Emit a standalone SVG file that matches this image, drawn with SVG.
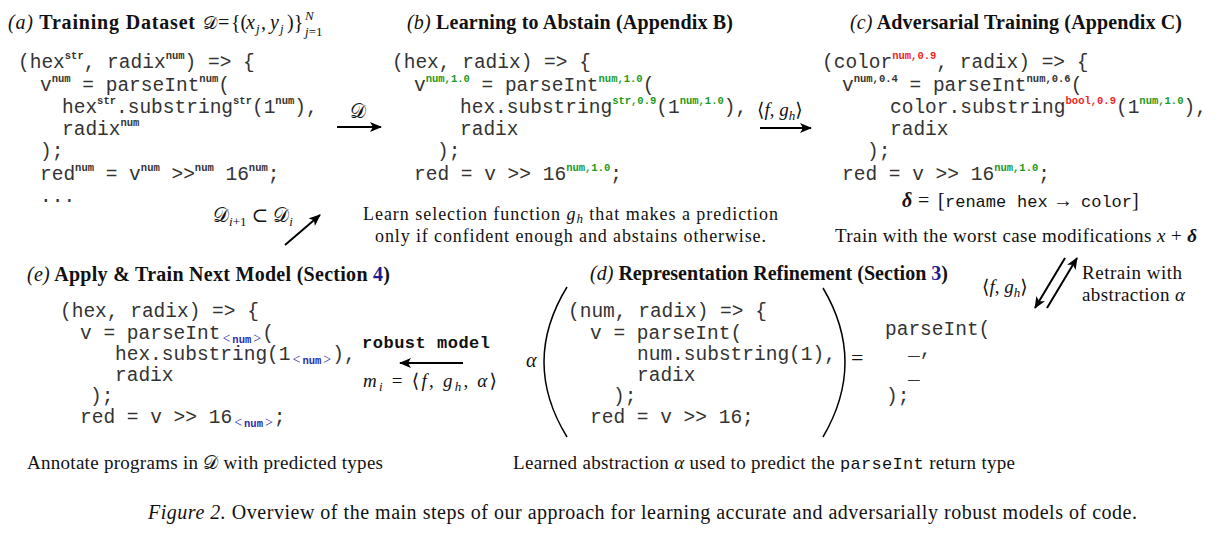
<svg xmlns="http://www.w3.org/2000/svg" width="1219" height="537" viewBox="0 0 1219 537">
<defs>
<marker id="ah" viewBox="0 0 12 10" refX="11" refY="5" markerWidth="12" markerHeight="10" markerUnits="userSpaceOnUse" orient="auto"><path d="M0,0 L12,5 L0,10 L3,5 z" fill="#000"/></marker>
<style>
.code{font-family:"Liberation Mono",monospace;font-size:19.5px;fill:#333}
.sup{font-family:"Liberation Mono",monospace;font-weight:bold;font-size:10.5px}
.g{fill:#1c9a1c}
.r{fill:#f01e1e}
.bl{fill:#2b2ba8}
.ser{font-family:"Liberation Serif","DejaVu Serif",serif;font-size:19px;fill:#111}
.cap{font-size:18px}
.ttl{font-family:"Liberation Serif",serif;font-size:20px;font-weight:bold;fill:#111}
.it{font-style:italic;font-weight:normal}
.mi{font-style:italic}
.sm{font-size:13px}
.link{fill:#1c1c8c}
.tt{font-family:"Liberation Mono",monospace}
.arrow{stroke:#000;stroke-width:2;fill:none;marker-end:url(#ah)}
.paren{stroke:#000;stroke-width:1.5;fill:none}
</style>
</defs>
<rect width="1219" height="537" fill="#fff"/>

<g id="panel-a">
<text class="ttl" x="8" y="29" textLength="187"><tspan class="it">(a)</tspan> Training Dataset</text>
<text class="ser" y="29" style="font-size:20px"><tspan x="203" style="font-size:18px">𝒟</tspan><tspan x="218">=</tspan><tspan x="231">{(</tspan><tspan x="246" class="mi">x</tspan><tspan x="256" dy="4" class="mi sm">j</tspan><tspan x="261" dy="-4">,</tspan><tspan x="270" class="mi">y</tspan><tspan x="280" dy="4" class="mi sm">j</tspan><tspan x="287" dy="-4">)}</tspan><tspan x="305" y="20" class="mi sm">N</tspan><tspan x="305" y="36" class="mi sm">j</tspan><tspan class="sm">=1</tspan></text>
<text class="code" x="18" y="68">(hex<tspan class="sup" dy="-9">str</tspan><tspan dy="9">, radix</tspan><tspan class="sup" dy="-9">num</tspan><tspan dy="9">) =&gt; {</tspan></text>
<text class="code" x="40" y="91">v<tspan class="sup" dy="-9">num</tspan><tspan dy="9"> = parseInt</tspan><tspan class="sup" dy="-9">num</tspan><tspan dy="9">(</tspan></text>
<text class="code" x="62" y="113">hex<tspan class="sup" dy="-9">str</tspan><tspan dy="9">.substring</tspan><tspan class="sup" dy="-9">str</tspan><tspan dy="9">(1</tspan><tspan class="sup" dy="-9">num</tspan><tspan dy="9">),</tspan></text>
<text class="code" x="62" y="135">radix<tspan class="sup" dy="-9">num</tspan></text>
<text class="code" x="40" y="157">);</text>
<text class="code" x="40" y="180">red<tspan class="sup" dy="-9">num</tspan><tspan dy="9"> = v</tspan><tspan class="sup" dy="-9">num</tspan><tspan dy="9"> &gt;&gt;</tspan><tspan class="sup" dy="-9">num</tspan><tspan dy="9"> 16</tspan><tspan class="sup" dy="-9">num</tspan><tspan dy="9">;</tspan></text>
<text class="code" x="40" y="202">...</text>
</g>

<g id="panel-b">
<text class="ttl" x="407" y="29" textLength="326"><tspan class="it">(b)</tspan> Learning to Abstain (Appendix B)</text>
<text class="code" x="392" y="68">(hex, radix) =&gt; {</text>
<text class="code" x="414" y="91">v<tspan class="sup g" dy="-9">num,1.0</tspan><tspan dy="9"> = parseInt</tspan><tspan class="sup g" dy="-9">num,1.0</tspan><tspan dy="9">(</tspan></text>
<text class="code" x="460" y="113">hex.substring<tspan class="sup g" dy="-9">str,0.9</tspan><tspan dy="9">(1</tspan><tspan class="sup g" dy="-9">num,1.0</tspan><tspan dy="9">),</tspan></text>
<text class="code" x="460" y="135">radix</text>
<text class="code" x="437" y="157">);</text>
<text class="code" x="414" y="180">red = v &gt;&gt; 16<tspan class="sup g" dy="-9">num,1.0</tspan><tspan dy="9">;</tspan></text>
<text class="ser cap" x="363" y="220" textLength="415">Learn selection function <tspan class="mi">g</tspan><tspan class="mi sm" dy="3">h</tspan><tspan dy="-3"> that makes a prediction</tspan></text>
<text class="ser cap" x="375" y="242" textLength="391">only if confident enough and abstains otherwise.</text>
</g>

<g id="panel-c">
<text class="ttl" x="850" y="29" textLength="332"><tspan class="it">(c)</tspan> Adversarial Training (Appendix C)</text>
<text class="code" x="822" y="68">(color<tspan class="sup r" dy="-9">num,0.9</tspan><tspan dy="9">, radix) =&gt; {</tspan></text>
<text class="code" x="842" y="91">v<tspan class="sup" dy="-9">num,0.4</tspan><tspan dy="9"> = parseInt</tspan><tspan class="sup" dy="-9">num,0.6</tspan><tspan dy="9">(</tspan></text>
<text class="code" x="890" y="113">color.substring<tspan class="sup r" dy="-9">bool,0.9</tspan><tspan dy="9">(1</tspan><tspan class="sup g" dy="-9">num,1.0</tspan><tspan dy="9">),</tspan></text>
<text class="code" x="890" y="135">radix</text>
<text class="code" x="867" y="157">);</text>
<text class="code" x="842" y="180">red = v &gt;&gt; 16<tspan class="sup g" dy="-9">num,1.0</tspan><tspan dy="9">;</tspan></text>
<text class="ser" y="207" style="font-size:20px"><tspan x="902" font-weight="bold" font-style="italic">δ</tspan><tspan x="918">=</tspan><tspan x="938">[</tspan><tspan x="945" class="tt" style="font-size:17px">rename</tspan><tspan x="1017" class="tt" style="font-size:17px">hex</tspan><tspan x="1053">→</tspan><tspan x="1081" class="tt" style="font-size:17px">color</tspan><tspan x="1132">]</tspan></text>
<text class="ser" x="835" y="242" textLength="362">Train with the worst case modifications <tspan class="mi">x</tspan> + <tspan font-weight="bold" font-style="italic">δ</tspan></text>
</g>

<g id="panel-d">
<text class="ttl" x="590" y="280" textLength="358"><tspan class="it">(d)</tspan> Representation Refinement (Section <tspan class="link">3</tspan>)</text>
<text class="ser mi" x="526" y="367" style="font-size:20px">α</text>
<path class="paren" d="M567,287 Q521,362 567,437"/>
<text class="code" x="568" y="317">(num, radix) =&gt; {</text>
<text class="code" x="590" y="339">v = parseInt(</text>
<text class="code" x="637" y="360">num.substring(1),</text>
<text class="code" x="637" y="381">radix</text>
<text class="code" x="613" y="402">);</text>
<text class="code" x="590" y="423">red = v &gt;&gt; 16;</text>
<path class="paren" d="M823,288 Q867,362 823,437"/>
<text class="ser" x="851" y="365" style="font-size:22px">=</text>
<text class="code" x="885" y="335">parseInt(</text>
<text class="code" x="908" y="355">_,</text>
<text class="code" x="908" y="379">_</text>
<text class="code" x="886" y="402">);</text>
<text class="ser" x="513" y="469" textLength="502">Learned abstraction <tspan class="mi">α</tspan> used to predict the <tspan class="tt" style="font-size:17px">parseInt</tspan> return type</text>
</g>

<g id="panel-e">
<text class="ttl" x="27" y="281" textLength="363"><tspan class="it">(e)</tspan> Apply &amp; Train Next Model (Section <tspan class="link">4</tspan>)</text>
<text class="code" x="60" y="317">(hex, radix) =&gt; {</text>
<text class="code" x="80" y="339">v = parseInt<tspan class="bl" dy="4" dx="2" style="font-family:'Liberation Serif',serif;font-size:14px">&lt;</tspan><tspan class="sup bl" dx="2">num</tspan><tspan class="bl" dx="2" style="font-family:'Liberation Serif',serif;font-size:14px">&gt;</tspan><tspan dy="-4" dx="1">(</tspan></text>
<text class="code" x="115" y="360">hex.substring(1<tspan class="bl" dy="4" dx="2" style="font-family:'Liberation Serif',serif;font-size:14px">&lt;</tspan><tspan class="sup bl" dx="2">num</tspan><tspan class="bl" dx="2" style="font-family:'Liberation Serif',serif;font-size:14px">&gt;</tspan><tspan dy="-4" dx="1">),</tspan></text>
<text class="code" x="115" y="381">radix</text>
<text class="code" x="90" y="402">);</text>
<text class="code" x="80" y="423">red = v &gt;&gt; 16<tspan class="bl" dy="4" dx="2" style="font-family:'Liberation Serif',serif;font-size:14px">&lt;</tspan><tspan class="sup bl" dx="2">num</tspan><tspan class="bl" dx="2" style="font-family:'Liberation Serif',serif;font-size:14px">&gt;</tspan><tspan dy="-4" dx="1">;</tspan></text>
<text class="ser" x="27" y="469" textLength="356">Annotate programs in <tspan>𝒟</tspan> with predicted types</text>
</g>

<g id="connectors">
<line class="arrow" x1="337" y1="127" x2="381" y2="127"/>
<text class="ser" x="350" y="118" style="font-size:20px">𝒟</text>
<line class="arrow" x1="760" y1="128" x2="811" y2="128"/>
<text class="ser" x="757" y="116" style="font-size:19px">⟨<tspan class="mi">f</tspan>, <tspan class="mi">g</tspan><tspan class="mi sm" dy="4">h</tspan><tspan dy="-4">⟩</tspan></text>
<line class="arrow" x1="1065" y1="258" x2="1035" y2="308"/>
<line class="arrow" x1="1047" y1="308" x2="1077" y2="258"/>
<text class="ser" x="982" y="293" style="font-size:19px">⟨<tspan class="mi">f</tspan>, <tspan class="mi">g</tspan><tspan class="mi sm" dy="4">h</tspan><tspan dy="-4">⟩</tspan></text>
<text class="ser" x="1082" y="279" textLength="100">Retrain with</text>
<text class="ser" x="1082" y="301" textLength="103">abstraction <tspan class="mi">α</tspan></text>
<line class="arrow" x1="463" y1="363" x2="400" y2="363"/>
<text class="tt" x="362" y="348" textLength="128" style="font-size:17px;font-weight:bold;fill:#111">robust model</text>
<text class="ser" x="363" y="387" textLength="134" style="font-size:19px"><tspan class="mi">m</tspan><tspan class="mi sm" dy="4">i</tspan><tspan dy="-4"> = ⟨</tspan><tspan class="mi">f</tspan>, <tspan class="mi">g</tspan><tspan class="mi sm" dy="4">h</tspan><tspan dy="-4">, </tspan><tspan class="mi">α</tspan>⟩</text>
<line class="arrow" x1="285" y1="245" x2="320" y2="215"/>
<text class="ser" x="213" y="222" style="font-size:20px">𝒟<tspan class="mi sm" dy="4">i</tspan><tspan class="sm">+1</tspan><tspan dy="-4"> ⊂ 𝒟</tspan><tspan class="mi sm" dy="4">i</tspan></text>
</g>

<g id="caption">
<text class="ser" x="148" y="519" textLength="989" style="font-size:20px"><tspan class="mi">Figure 2.</tspan> Overview of the main steps of our approach for learning accurate and adversarially robust models of code.</text>
</g>
</svg>
